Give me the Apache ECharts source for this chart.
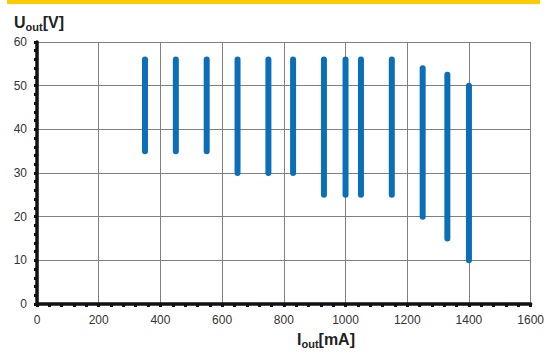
<!DOCTYPE html>
<html>
<head>
<meta charset="utf-8">
<script src="https://cdn.jsdelivr.net/npm/echarts@6/dist/echarts.min.js"></script>
<style>
  html, body { margin: 0; padding: 0; background: #fff; }
  #chart { width: 547px; height: 354px; }
</style>
</head>
<body>
<div id="chart"></div>
<script>
// output current (mA) for each vertical range
const currents = [350, 450, 550, 650, 750, 830, 930, 1000, 1050, 1150, 1250, 1330, 1400];
// lowest and highest output voltage (V) at that current
const voltMin = [35, 35, 35, 30, 30, 30, 25, 25, 25, 25, 20, 15, 10];
const voltMax = [56, 56, 56, 56, 56, 56, 56, 56, 56, 56, 54, 52.5, 50];

const xTicks = [0, 200, 400, 600, 800, 1000, 1200, 1400, 1600];
const yTicks = [0, 10, 20, 30, 40, 50, 60];

const chart = echarts.init(document.getElementById('chart'), null, { renderer: 'svg' });

const labelFont = 'Liberation Sans, Arial, sans-serif';
const axisCommon = {
  axisLine: { onZero: false, lineStyle: { color: '#111', width: 3.5 } },
  axisTick: { show: true, length: 3, lineStyle: { color: '#111', width: 3 } },
  minorTick: { show: true, splitNumber: 5, length: 3, lineStyle: { color: '#111', width: 3 } },
  splitLine: { show: true, lineStyle: { color: '#808080', width: 1 } },
  axisLabel: {
    color: '#333', fontSize: 12, fontFamily: labelFont,
    formatter: (v) => String(v)
  }
};

const nameRich = {
  b: { fontSize: 16, fontWeight: 'bold', color: '#222', fontFamily: labelFont },
  s: { fontSize: 11, fontWeight: 'bold', color: '#222', fontFamily: labelFont, padding: [8, 0, 0, 0] }
};

chart.setOption({
  animation: false,
  grid: { left: 37, right: 14, top: 42, bottom: 50 },
  title: [
    { left: 9, top: 8, text: '{b|U}{s|out}{b|[V]}', textStyle: { rich: nameRich } },
    { left: 292, top: 325, text: '{b|I}{s|out}{b|[mA]}', textStyle: { rich: nameRich } }
  ],
  graphic: [
    { type: 'rect', left: 7, top: 0, shape: { width: 533, height: 4 }, style: { fill: '#ffcc00' } }
  ],
  xAxis: Object.assign({}, axisCommon, {
    type: 'value',
    min: xTicks[0],
    max: xTicks[xTicks.length - 1],
    interval: 200,
    axisLabel: Object.assign({}, axisCommon.axisLabel, { margin: 10 })
  }),
  yAxis: Object.assign({}, axisCommon, {
    type: 'value',
    min: yTicks[0],
    max: yTicks[yTicks.length - 1],
    interval: 10,
    axisLabel: Object.assign({}, axisCommon.axisLabel, { margin: 10 })
  }),
  series: [
    {
      type: 'custom',
      data: currents.map((c, i) => [c, voltMin[i], voltMax[i]]),
      renderItem: function (params, api) {
        const x = api.value(0);
        const lo = api.coord([x, api.value(1)]);
        const hi = api.coord([x, api.value(2)]);
        return {
          type: 'line',
          shape: { x1: lo[0], y1: lo[1], x2: hi[0], y2: hi[1] },
          style: { stroke: '#0b6fb8', lineWidth: 6, lineCap: 'round' }
        };
      },
      z: 3
    }
  ]
});
</script>
</body>
</html>
